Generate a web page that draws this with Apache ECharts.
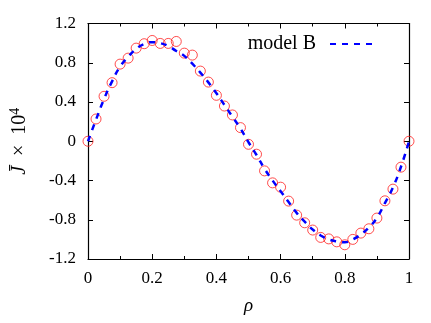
<!DOCTYPE html>
<html><head><meta charset="utf-8">
<script src="https://cdn.jsdelivr.net/npm/echarts@6/dist/echarts.min.js"></script>
<style>html,body{margin:0;padding:0;background:#fff}#c{width:431px;height:323px}</style>
</head><body><div id="c"></div>
<script>
// rho positions (step 0.025)
const rho = [0,0.025,0.05,0.075,0.1,0.125,0.15,0.175,0.2,0.225,0.25,0.275,0.3,0.325,0.35,0.375,0.4,0.425,0.45,0.475,0.5,0.525,0.55,0.575,0.6,0.625,0.65,0.675,0.7,0.725,0.75,0.775,0.8,0.825,0.85,0.875,0.9,0.925,0.95,0.975,1.0];
// simulation points (red circles)
const simJ = [0,0.227,0.458,0.597,0.786,0.847,0.949,0.994,1.027,0.997,0.997,1.017,0.898,0.878,0.715,0.603,0.468,0.359,0.268,0.139,-0.031,-0.132,-0.302,-0.424,-0.468,-0.61,-0.753,-0.831,-0.905,-0.98,-0.995,-1.025,-1.055,-1.0,-0.936,-0.892,-0.783,-0.607,-0.488,-0.264,0];
// model B curve (blue dashed)
const modelB = [0,0.22,0.43,0.61,0.76,0.86,0.94,0.99,1.01,1.0,0.97,0.92,0.87,0.79,0.7,0.6,0.49,0.37,0.25,0.13,-0.01,-0.14,-0.28,-0.4,-0.51,-0.62,-0.73,-0.82,-0.9,-0.96,-1.0,-1.02,-1.03,-1.0,-0.95,-0.88,-0.78,-0.63,-0.47,-0.26,0];
const xTicks = [0,0.2,0.4,0.6,0.8,1];
const yTicks = [-1.2,-0.8,-0.4,0,0.4,0.8,1.2];
const seriesName = 'model B';

const FONT = 'Liberation Serif';
const chart = echarts.init(document.getElementById('c'));
const pts = rho.map((r,i)=>[r, simJ[i]]);
const line = rho.map((r,i)=>[r, modelB[i]]);
const xCommon = {
  type:'value', min:xTicks[0], max:xTicks[xTicks.length-1], interval:xTicks[1]-xTicks[0],
  axisLine:{show:true, onZero:false, lineStyle:{color:'#000', width:1.2}},
  axisTick:{show:true, inside:true, length:5, lineStyle:{color:'#000', width:1}},
  minorTick:{show:true, splitNumber:2, length:3, lineStyle:{color:'#000', width:1}},
  splitLine:{show:false}
};
const yCommon = {
  type:'value', min:yTicks[0], max:yTicks[yTicks.length-1], interval:yTicks[1]-yTicks[0],
  axisLine:{show:true, onZero:false, lineStyle:{color:'#000', width:1.2}},
  axisTick:{show:true, inside:true, length:5, lineStyle:{color:'#000', width:1}},
  splitLine:{show:false}
};
chart.setOption({
  animation:false,
  backgroundColor:'#fff',
  textStyle:{fontFamily:FONT},
  grid:{left:86, right:22, top:23.5, bottom:64},
  legend:{
    data:[seriesName], right:54, top:34, padding:0, align:'right',
    itemWidth:46, itemHeight:16,
    itemStyle:{opacity:0},
    textStyle:{fontFamily:FONT, fontSize:20, color:'#000', padding:[0,9,0,0]}
  },
  xAxis:[
    Object.assign({}, xCommon, {
      position:'bottom', name:'ρ', nameLocation:'middle', nameGap:37,
      nameTextStyle:{fontFamily:FONT, fontSize:19, fontStyle:'italic', color:'#000'},
      axisLabel:{show:true, margin:11, fontFamily:FONT, fontSize:17, color:'#000'}
    }),
    Object.assign({}, xCommon, {position:'top', axisLabel:{show:false}})
  ],
  yAxis:[
    Object.assign({}, yCommon, {
      position:'left', name:'{i|J\u0304}{t|  ×  10}{s|4}', nameLocation:'middle', nameGap:56, nameRotate:90,
      nameTextStyle:{fontFamily:FONT, fontSize:20, color:'#000',
        rich:{i:{fontFamily:FONT, fontSize:20, fontStyle:'italic', color:'#000'},
              t:{fontFamily:FONT, fontSize:20, color:'#000'},
              s:{fontFamily:FONT, fontSize:14, color:'#000', verticalAlign:'top', padding:[0,0,10,0]}}},
      axisLabel:{show:true, margin:12, fontFamily:FONT, fontSize:17, color:'#000',
        formatter:v=>String(Math.round(v*10)/10)}
    }),
    Object.assign({}, yCommon, {position:'right', axisLabel:{show:false}})
  ],
  series:[
    {type:'scatter', name:'sim', data:pts, symbol:'circle', symbolSize:10,
     itemStyle:{color:'rgba(0,0,0,0)', borderColor:'#ff2020', borderWidth:1}, z:2},
    {type:'line', name:seriesName, data:line, showSymbol:false, symbol:'none', smooth:true,
     lineStyle:{color:'#0000ff', width:2.5, type:[6,6]}, itemStyle:{color:'#0000ff'}, z:3}
  ]
});
</script></body></html>
